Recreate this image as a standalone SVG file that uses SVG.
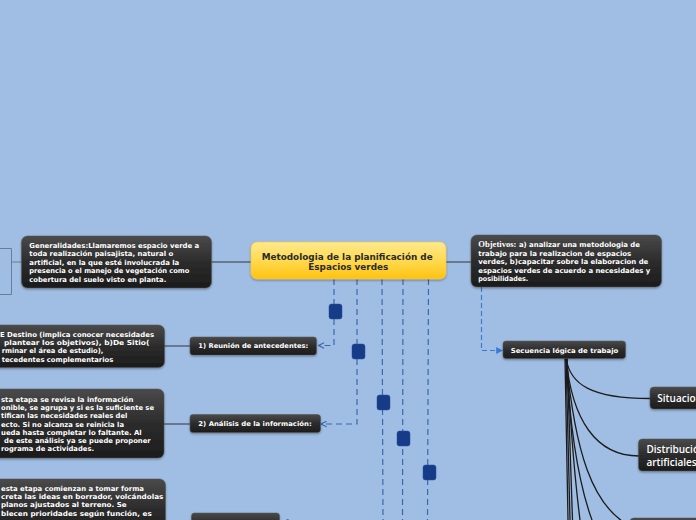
<svg xmlns="http://www.w3.org/2000/svg" width="696" height="520" viewBox="0 0 696 520">
<defs>
<linearGradient id="dark" x1="0" y1="0" x2="0" y2="1">
<stop offset="0" stop-color="#4a4a4a"/>
<stop offset="0.5" stop-color="#2c2c2c"/>
<stop offset="1" stop-color="#1c1c1c"/>
</linearGradient>
<linearGradient id="yellow" x1="0" y1="0" x2="0" y2="1">
<stop offset="0" stop-color="#ffe98e"/>
<stop offset="0.55" stop-color="#ffd84a"/>
<stop offset="1" stop-color="#ffc20e"/>
</linearGradient>
<filter id="sh" x="-10%" y="-20%" width="120%" height="150%">
<feDropShadow dx="0" dy="1.2" stdDeviation="1" flood-color="#000" flood-opacity="0.35"/>
</filter>
<marker id="openArrow" viewBox="0 0 10 10" refX="9" refY="5" markerWidth="7" markerHeight="7" orient="auto" markerUnits="userSpaceOnUse">
<path d="M1,1 L9,5 L1,9" fill="none" stroke="#3c67b0" stroke-width="1.6"/>
</marker>
<marker id="fillArrow" viewBox="0 0 10 10" refX="9" refY="5" markerWidth="7" markerHeight="7" orient="auto" markerUnits="userSpaceOnUse">
<path d="M0,0 L10,5 L0,10 Z" fill="#3a7ad6"/>
</marker>
</defs>
<style>
.bg{fill:#a0bee3}
.node{fill:url(#dark);stroke:#555;stroke-width:0.5;filter:url(#sh)}
.main{fill:url(#yellow);stroke:#f3c64a;stroke-width:0.6;filter:url(#sh)}
.t{font-family:"DejaVu Sans",Verdana,sans-serif;font-weight:bold;font-size:6.9px;fill:#ffffff}
.tc{font-family:"DejaVu Sans",Verdana,sans-serif;font-weight:bold;font-size:8.3px;fill:#2a2a2a;text-anchor:middle}
.ts{font-family:"DejaVu Sans",Verdana,sans-serif;font-weight:bold;font-size:6.6px;fill:#ffffff;text-anchor:middle}
.tl{font-family:"Open Sans","DejaVu Sans",sans-serif;font-size:10px;font-weight:600;fill:#ffffff}
.serif{font-family:"Liberation Serif","Times New Roman",serif;font-weight:bold;font-size:8.6px}
.gray{fill:none;stroke:#687d9a;stroke-width:1}
.darkline{fill:none;stroke:#2e3440;stroke-width:1}
.blue{fill:none;stroke:#3c67b0;stroke-width:1.2;stroke-dasharray:6 4}
.lblue{fill:none;stroke:#3a7ad6;stroke-width:1.2;stroke-dasharray:5 3}
.sq{fill:#163c88;stroke:#274f9c;stroke-width:0.5}
.curve{fill:none;stroke:#1c1c1c;stroke-width:1.3}
</style>
<rect class="bg" x="0" y="0" width="696" height="520"/>

<g id="connectors">
<path class="gray" d="M0,248.5 H11.5 V294.5 H0"/>
<path class="gray" d="M11.5,262 H21.5"/>
<path class="darkline" d="M211.5,262 H251"/>
<path class="darkline" d="M446,262 H471"/>
<path class="darkline" d="M164,346 H190"/>
<path class="darkline" d="M164,424 H190"/>
<path class="blue" d="M334,279 V345.5 H318.5" marker-end="url(#openArrow)"/>
<path class="blue" d="M357,279 V424 H321" marker-end="url(#openArrow)"/>
<path class="blue" d="M382,279 L383,522 H283" marker-end="url(#openArrow)"/>
<path class="blue" d="M403,279 L402.5,520"/>
<path class="blue" d="M428.5,279 L427.5,520"/>
<rect class="sq" x="329" y="304" width="13" height="15" rx="2.5"/>
<rect class="sq" x="352" y="344" width="13" height="15" rx="2.5"/>
<rect class="sq" x="377" y="395" width="13" height="15" rx="2.5"/>
<rect class="sq" x="397" y="431" width="13" height="15" rx="2.5"/>
<rect class="sq" x="423" y="465" width="13" height="15" rx="2.5"/>
<path class="lblue" d="M481.5,287 V350.5 H502.5" marker-end="url(#fillArrow)"/>
<path class="curve" d="M566,358 C570,385 592,398.5 650,398.5"/>
<path class="curve" d="M566,358 C572,420 596,456 639,456"/>
<path class="curve" d="M566,358 C575,452 592,506 630,526"/>
<path class="curve" d="M566,358 C570,430 578,482 592,520"/>
<path class="curve" d="M565,358 L568,520"/>
<path class="curve" d="M566,358 L570,520"/>
<path class="curve" d="M567,358 L572.5,520"/>
<path class="curve" d="M567,358 C570,420 575,480 580,520"/>
</g>

<g id="generalidades">
<rect class="node" x="21.5" y="236" width="190" height="52" rx="6"/>
<text class="t" x="29.3" y="247.5" textLength="170" lengthAdjust="spacingAndGlyphs">Generalidades:Llamaremos espacio verde a</text>
<text class="t" x="29.3" y="256" textLength="144" lengthAdjust="spacingAndGlyphs">toda realización paisajista, natural o</text>
<text class="t" x="29.3" y="264.5" textLength="150" lengthAdjust="spacingAndGlyphs">artificial, en la que esté involucrada la</text>
<text class="t" x="29.3" y="273" textLength="160" lengthAdjust="spacingAndGlyphs">presencia o el manejo de vegetación como</text>
<text class="t" x="29.3" y="281.5" textLength="137" lengthAdjust="spacingAndGlyphs">cobertura del suelo visto en planta.</text>
</g>

<g id="central">
<rect class="main" x="251" y="242" width="195" height="37" rx="6"/>
<text class="tc" x="347.2" y="259.5" textLength="171" lengthAdjust="spacingAndGlyphs">Metodologia de la planificación de</text>
<text class="tc" x="348.3" y="270" textLength="80" lengthAdjust="spacingAndGlyphs">Espacios verdes</text>
</g>

<g id="objetivos">
<rect class="node" x="471" y="235" width="190.5" height="52" rx="6"/>
<text class="t" x="478.3" y="247.3"><tspan class="serif">Objetivos:</tspan> a) analizar una metodologia de</text>
<text class="t" x="478.3" y="255.7" textLength="153" lengthAdjust="spacingAndGlyphs">trabajo para la realizacion de espacios</text>
<text class="t" x="478.3" y="264.1" textLength="170" lengthAdjust="spacingAndGlyphs">verdes, b)capacitar sobre la elaboracion de</text>
<text class="t" x="478.3" y="272.5" textLength="172" lengthAdjust="spacingAndGlyphs">espacios verdes de acuerdo a necesidades y</text>
<text class="t" x="478.3" y="280.9" textLength="50" lengthAdjust="spacingAndGlyphs">posibilidades.</text>
</g>

<g id="antecedentes-detalle">
<rect class="node" x="-10" y="325" width="174.5" height="42.5" rx="6"/>
<text class="t" x="0" y="336.7" textLength="154" lengthAdjust="spacingAndGlyphs">E Destino (implica conocer necesidades</text>
<text class="t" x="4" y="345" textLength="145.3" lengthAdjust="spacingAndGlyphs">plantear los objetivos), b)De Sitio(</text>
<text class="t" x="1.7" y="353.3" textLength="101.6" lengthAdjust="spacingAndGlyphs">rminar el área de estudio),</text>
<text class="t" x="1.7" y="361.6" textLength="111.6" lengthAdjust="spacingAndGlyphs">tecedentes complementarios</text>
</g>

<g id="reunion">
<rect class="node" x="190" y="337" width="126.5" height="18" rx="3"/>
<text class="ts" x="253.3" y="348.3" textLength="110" lengthAdjust="spacingAndGlyphs">1) Reunión de antecedentes:</text>
</g>

<g id="analisis-detalle">
<rect class="node" x="-10" y="389" width="174" height="69" rx="6"/>
<text class="t" x="1" y="401.7" textLength="132.3" lengthAdjust="spacingAndGlyphs">sta etapa se revisa  la información</text>
<text class="t" x="1" y="410" textLength="153" lengthAdjust="spacingAndGlyphs">onible, se agrupa y si es la suficiente se</text>
<text class="t" x="1" y="418.3" textLength="126.3" lengthAdjust="spacingAndGlyphs">tifican las necesidades reales del</text>
<text class="t" x="1" y="426.5" textLength="123" lengthAdjust="spacingAndGlyphs">ecto. Si no alcanza se reinicia la</text>
<text class="t" x="1" y="434.8" textLength="140.7" lengthAdjust="spacingAndGlyphs">ueda hasta completar lo faltante. Al</text>
<text class="t" x="4" y="443" textLength="146.7" lengthAdjust="spacingAndGlyphs">de este análisis ya se puede proponer</text>
<text class="t" x="1" y="451.3" textLength="93" lengthAdjust="spacingAndGlyphs">rograma de actividades.</text>
</g>

<g id="analisis">
<rect class="node" x="190" y="414.5" width="130.5" height="18" rx="3"/>
<text class="ts" x="255" y="426.3" textLength="113.4" lengthAdjust="spacingAndGlyphs">2) Análisis de la información:</text>
</g>

<g id="etapa3-detalle">
<rect class="node" x="-10" y="479" width="175.5" height="60" rx="6"/>
<text class="t" x="1" y="491" textLength="143" lengthAdjust="spacingAndGlyphs">esta etapa  comienzan a tomar forma</text>
<text class="t" x="1" y="499.2" textLength="162.3" lengthAdjust="spacingAndGlyphs">creta las ideas en borrador, volcándolas</text>
<text class="t" x="1" y="507.4" textLength="125.7" lengthAdjust="spacingAndGlyphs">planos ajustados al terreno. Se</text>
<text class="t" x="1" y="515.6" textLength="150.7" lengthAdjust="spacingAndGlyphs">blecen prioridades según función, es</text>
</g>

<g id="etapa3">
<rect class="node" x="191.5" y="513" width="88" height="20" rx="3"/>
</g>

<g id="secuencia">
<rect class="node" x="503" y="341" width="122.5" height="17.5" rx="3"/>
<text class="ts" x="564.5" y="352.6" textLength="107.6" lengthAdjust="spacingAndGlyphs">Secuencia lógica de trabajo</text>
</g>

<g id="situacion">
<rect class="node" x="650" y="387" width="60" height="22" rx="4"/>
<text class="tl" x="657.3" y="401.5">Situacion</text>
</g>

<g id="distribucion">
<rect class="node" x="638.5" y="439" width="70" height="32" rx="4"/>
<text class="tl" x="646.5" y="452.5">Distribución</text>
<text class="tl" x="646.5" y="465.5">artificiales</text>
</g>

<g id="nodo-inferior">
<rect class="node" x="630" y="518" width="80" height="20" rx="4"/>
</g>
</svg>
